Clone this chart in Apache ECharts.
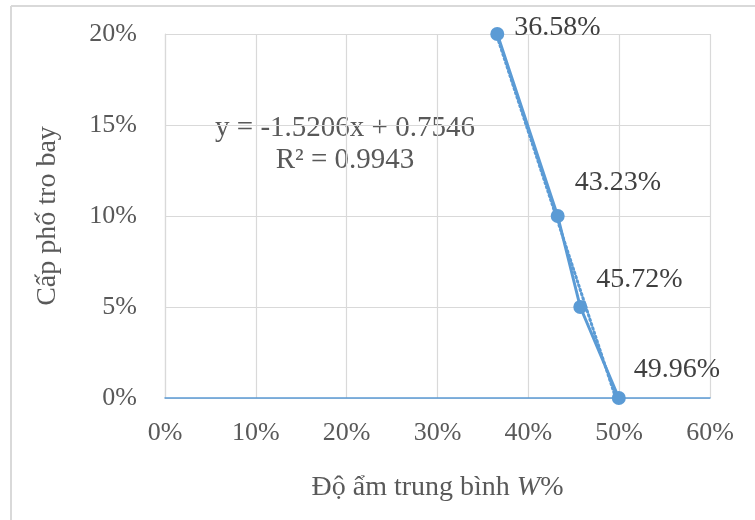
<!DOCTYPE html>
<html><head><meta charset="utf-8">
<script src="https://cdn.jsdelivr.net/npm/echarts@6/dist/echarts.min.js"></script>
<style>html,body{margin:0;padding:0;background:#fff}#c{width:755px;height:520px}</style>
</head><body><div id="c"></div>
<script>
const moisture = [0.3658, 0.4323, 0.4572, 0.4996];
const flyAsh = [0.20, 0.10, 0.05, 0.00];
const xTicks = [0, 0.1, 0.2, 0.3, 0.4, 0.5, 0.6];
const yTicks = [0, 0.05, 0.10, 0.15, 0.20];
const slope = -1.5206, intercept = 0.7546, r2 = 0.9943;

const labelOffsets = [[5,-6],[5,-33],[4,-27],[3,-28]];
const blue = '#5B9BD5';
const txt = '#404040';
const tick = '#595959';
const font = '"Liberation Serif","Times New Roman",serif';

const xmin = Math.min(...moisture), xmax = Math.max(...moisture);
const trend = [[xmin, slope*xmin+intercept],[xmax, slope*xmax+intercept]];

const chart = echarts.init(document.getElementById('c'));
chart.setOption({
  animation:false,
  grid:{left:165,right:45,top:34,bottom:122},
  xAxis:{type:'value',min:0,max:0.6,interval:0.1,
    name:'{n|Độ ẩm trung bình }{i|W}{n|%}',nameLocation:'middle',nameGap:76,
    nameTextStyle:{fontFamily:font,fontSize:28,color:tick,
      rich:{n:{fontFamily:font,fontSize:28,color:tick},
            i:{fontFamily:font,fontSize:28,color:tick,fontStyle:'italic'}}},
    axisLine:{show:true,onZero:false,lineStyle:{color:blue,width:1.5}},
    axisTick:{show:false},
    splitLine:{lineStyle:{color:'#D9D9D9',width:1.2}},
    axisLabel:{fontFamily:font,fontSize:26,color:tick,margin:22,
      formatter:v=>Math.round(v*100)+'%'}},
  yAxis:{type:'value',min:0,max:0.2,interval:0.05,
    name:'Cấp phố tro bay',nameLocation:'middle',nameGap:103,
    nameTextStyle:{fontFamily:font,fontSize:28,color:tick},
    axisLine:{show:true,lineStyle:{color:'#D9D9D9',width:1.2}},
    axisTick:{show:false},
    splitLine:{lineStyle:{color:'#D9D9D9',width:1.2}},
    axisLabel:{fontFamily:font,fontSize:26,color:tick,margin:28,
      formatter:v=>Math.round(v*100)+'%'}},
  series:[
    {type:'line',data:trend,showSymbol:false,symbol:'none',z:2,
      lineStyle:{color:blue,width:3,type:[1.5,3],cap:'round'},silent:true},
    {type:'line',data:moisture.map((x,i)=>({value:[x,flyAsh[i]],
        label:{offset:labelOffsets[i]}})),
      symbol:'circle',symbolSize:14,z:3,
      itemStyle:{color:blue},lineStyle:{color:blue,width:3},
      label:{show:true,position:'right',fontFamily:font,fontSize:28,color:txt,
        formatter:p=>(p.value[0]*100).toFixed(2)+'%'}}
  ],
  graphic:[
    {type:'line',shape:{x1:11,y1:6,x2:755,y2:6},
      style:{stroke:'#D9D9D9',lineWidth:2},silent:true},
    {type:'line',shape:{x1:11,y1:6,x2:11,y2:520},
      style:{stroke:'#D9D9D9',lineWidth:2},silent:true},
    {type:'text',x:345,y:128,style:{text:'y = '+slope+'x + '+intercept,
      fontFamily:font,fontSize:29,fill:tick,align:'center',verticalAlign:'middle'}},
    {type:'text',x:345,y:160,style:{text:'R² = '+r2,
      fontFamily:font,fontSize:29,fill:tick,align:'center',verticalAlign:'middle'}}
  ]
});
</script></body></html>
